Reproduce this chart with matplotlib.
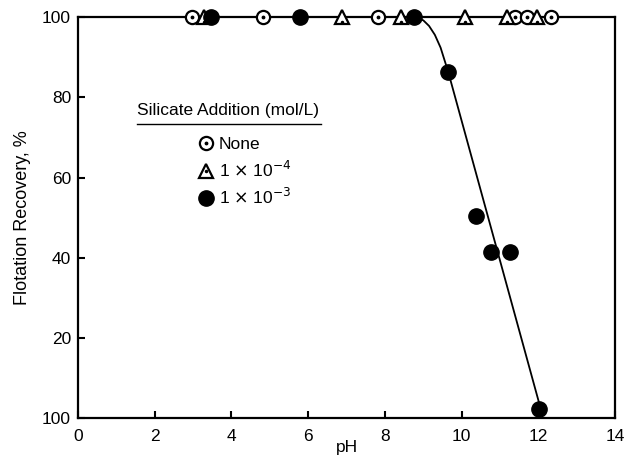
import matplotlib
matplotlib.use('Agg')
import matplotlib.pyplot as plt
from matplotlib.lines import Line2D
from matplotlib.legend_handler import HandlerTuple

plt.rcParams['font.family'] = ['Liberation Sans', 'DejaVu Sans']

# data
ph_none = [2.96, 4.81, 7.82, 11.38, 11.69, 12.33]
rec_none = [100, 100, 100, 100, 100, 100]

ph_1e4 = [3.29, 6.87, 8.42, 10.09, 11.17, 11.97]
rec_1e4 = [100, 100, 100, 100, 100, 100]

ph_1e3 = [3.47, 5.79, 8.75, 9.65, 10.37, 10.76, 11.27, 12.02]
rec_1e3 = [100, 100, 100, 86.3, 50.3, 41.3, 41.3, 2.3]

# hand drawn trend line through the 1e-3 series
ph_fit = [8.6, 8.8, 9.0, 9.15, 9.3, 9.45, 9.65, 12.06]
rec_fit = [100, 99.9, 99.2, 97.8, 95.6, 92.4, 86.3, 2.3]

xticks = [0, 2, 4, 6, 8, 10, 12, 14]
yticks = [0, 20, 40, 60, 80, 100]
ytick_labels = ['100', '20', '40', '60', '80', '100']

fs = 12.5

fig = plt.figure(figsize=(6.29, 4.63), dpi=100)
ax = fig.add_axes([0.124, 0.097, 0.854, 0.866])

ax.plot(ph_fit, rec_fit, color='black', lw=1.3, zorder=2)

# open circles with a dot
ax.plot(ph_none, rec_none, 'o', ms=9.5, mfc='white', mec='black', mew=1.6, clip_on=False, zorder=3)
ax.plot(ph_none, rec_none, '.', ms=3.5, color='black', clip_on=False, zorder=4)
# open triangles with a dot
ax.plot(ph_1e4, rec_1e4, '^', ms=10, mfc='white', mec='black', mew=1.6, clip_on=False, zorder=3)
ax.plot(ph_1e4, [r - 1.2 for r in rec_1e4], '.', ms=3, color='black', clip_on=False, zorder=4)
# filled circles
ax.plot(ph_1e3, rec_1e3, 'o', ms=11, color='black', clip_on=False, zorder=5)

ax.set_xlim(0, 14)
ax.set_ylim(0, 100)
ax.set_xticks(xticks)
ax.set_yticks(yticks)
ax.set_yticklabels(ytick_labels)
ax.tick_params(direction='in', length=5, width=1.5, labelsize=fs)
ax.tick_params(axis='x', pad=8)
ax.tick_params(axis='y', pad=5)
for s in ax.spines.values():
    s.set_linewidth(1.6)

ax.set_xlabel('pH', fontsize=fs, labelpad=-3)
ax.set_ylabel('Flotation Recovery, %', fontsize=13, labelpad=8)

# legend, title drawn separately and underlined
ax.text(0.110, 0.768, 'Silicate Addition (mol/L)', transform=ax.transAxes,
        fontsize=fs, ha='left', va='center')
ax.add_line(Line2D([0.11, 0.452], [0.733, 0.733], transform=ax.transAxes, color='black', lw=1.0))

h_none = (Line2D([], [], ls='', marker='o', ms=9.5, mfc='white', mec='black', mew=1.6),
          Line2D([], [], ls='', marker='.', ms=3.5, color='black'))
h_1e4 = (Line2D([], [], ls='', marker='^', ms=10, mfc='white', mec='black', mew=1.6),
         Line2D([], [], ls='', marker='.', ms=3, color='black'))
h_1e3 = Line2D([], [], ls='', marker='o', ms=11, color='black')
leg = ax.legend([h_none, h_1e4, h_1e3],
                ['None', r'1 $\times$ 10$^{-4}$', r'1 $\times$ 10$^{-3}$'],
                handler_map={tuple: HandlerTuple(ndivide=1, pad=0)},
                fontsize=fs, frameon=False, loc='upper left', bbox_to_anchor=(0.210, 0.718),
                handlelength=1.0, handletextpad=0.2, labelspacing=0.42, borderaxespad=0)

fig.savefig('out.png', dpi=100)
